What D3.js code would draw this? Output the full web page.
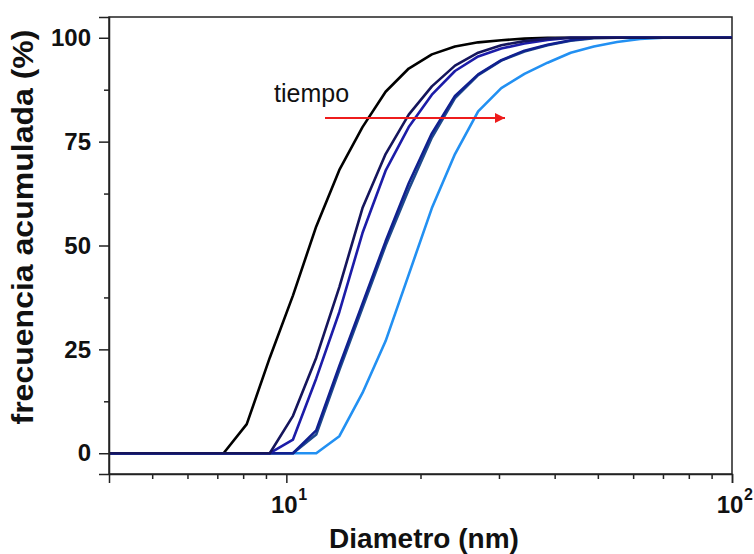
<!DOCTYPE html>
<html>
<head>
<meta charset="utf-8">
<script src="https://cdn.jsdelivr.net/npm/d3@7"></script>
<style>
  body { margin: 0; background: #fff; }
  text { font-family: "Liberation Sans", Arial, sans-serif; }
</style>
</head>
<body>
<script>
var width = 754;
var height = 554;

// diameters (nm) shared by all curves
var diameters = [4.0, 7.23, 8.15, 9.18, 10.35, 11.67, 13.15, 14.82, 16.70, 18.82, 21.21, 23.90,
                 26.94, 30.36, 34.22, 38.56, 43.46, 48.98, 55.20, 62.21, 70.11, 79.01, 89.05, 100];

// cumulative frequency (%) per curve, in time order
var black     = [0, 0, 7, 23, 38, 54.6, 68.2, 78.5, 87, 92.6, 96, 97.9, 98.9, 99.4, 99.8, 100, 100, 100, 100, 100, 100, 100, 100, 100];
var navy      = [0, 0, 0, 0, 9, 23, 40, 59, 72, 81.5, 88.3, 93.3, 96.4, 98.2, 99.2, 99.8, 100, 100, 100, 100, 100, 100, 100, 100];
var blue      = [0, 0, 0, 0, 3.3, 18, 34, 53, 68, 78.5, 86.3, 92, 95.5, 97.4, 98.6, 99.5, 100, 100, 100, 100, 100, 100, 100, 100];
var darkblue  = [0, 0, 0, 0, 0, 5.5, 21, 36, 51, 65, 77, 86, 91.2, 94.6, 96.9, 98.3, 99.4, 100, 100, 100, 100, 100, 100, 100];
var steel     = [0, 0, 0, 0, 0, 4.5, 20, 35, 50, 63.5, 76, 85.5, 91, 94.5, 96.7, 98.2, 99.3, 99.9, 100, 100, 100, 100, 100, 100];
var lightblue = [0, 0, 0, 0, 0, 0, 4.1, 14.5, 27, 43, 59, 72, 82.3, 87.9, 91.3, 94.0, 96.4, 97.9, 99, 99.7, 100, 100, 100, 100];

var seriesNames  = ["black", "lightblue", "steel", "darkblue", "blue", "navy"];
var seriesValues = [black, lightblue, steel, darkblue, blue, navy];
var seriesColors = ["#000000", "#2290f2", "#1e4a8c", "#10208f", "#1c1ca8", "#15155c"];

var yTicks = [0, 25, 50, 75, 100];
var yMinor = [12.5, 37.5, 62.5, 87.5];
var xTicks = [10, 100];
var xTickExp = ["1", "2"];
var xMinor = [5, 6, 7, 8, 9, 20, 30, 40, 50, 60, 70, 80, 90];

// plot box
var plotL = 109, plotR = 732, plotT = 17, plotB = 474;

var svg = d3.select("body").append("svg")
            .attr("width", width)
            .attr("height", height);

var x = d3.scaleLog().domain([4, 100]).range([plotL, plotR]);
var y = d3.scaleLinear().domain([-5, 105]).range([plotB, plotT]);

// frame
svg.append("rect")
   .attr("x", plotL).attr("y", plotT)
   .attr("width", plotR - plotL).attr("height", plotB - plotT)
   .attr("fill", "none")
   .attr("stroke", "#222")
   .attr("stroke-width", 1.5);

// curves
var line = d3.line()
             .x(function(d){ return x(d[0]); })
             .y(function(d){ return y(d[1]); });

svg.append("g")
   .selectAll("path")
   .data(seriesValues)
   .enter()
   .append("path")
   .attr("d", function(vals){ return line(diameters.map(function(dm, i){ return [dm, vals[i]]; })); })
   .attr("fill", "none")
   .attr("stroke", function(d, i){ return seriesColors[i]; })
   .attr("stroke-width", 2.6)
   .attr("stroke-linejoin", "round");

// y axis
var yAxis = d3.axisLeft(y).tickValues(yTicks).tickSize(10).tickPadding(8);
var gy = svg.append("g")
   .attr("transform", "translate(" + plotL + ",0)")
   .call(yAxis);
gy.select(".domain").attr("stroke", "#222").attr("stroke-width", 1.5);
gy.selectAll(".tick line").attr("stroke", "#222").attr("stroke-width", 1.5);
gy.selectAll(".tick text")
  .attr("font-family", "Liberation Sans, Arial, sans-serif")
  .attr("font-size", 24)
  .attr("font-weight", "bold")
  .attr("fill", "#111");

var gym = svg.append("g")
   .attr("transform", "translate(" + plotL + ",0)")
   .call(d3.axisLeft(y).tickValues(yMinor).tickSize(5).tickFormat(""));
gym.select(".domain").remove();
gym.selectAll(".tick line").attr("stroke", "#222").attr("stroke-width", 1.5);

// x axis
var gx = svg.append("g")
   .attr("transform", "translate(0," + plotB + ")")
   .call(d3.axisBottom(x).tickValues(xTicks).tickSize(9).tickFormat(""));
gx.select(".domain").attr("stroke", "#222").attr("stroke-width", 1.5);
gx.selectAll(".tick line").attr("stroke", "#222").attr("stroke-width", 1.5);

var gxm = svg.append("g")
   .attr("transform", "translate(0," + plotB + ")")
   .call(d3.axisBottom(x).tickValues(xMinor).tickSize(5).tickFormat(""));
gxm.select(".domain").remove();
gxm.selectAll(".tick line").attr("stroke", "#222").attr("stroke-width", 1.5);

// x tick labels 10^n
xTicks.forEach(function(v, i){
    svg.append("text")
       .attr("x", x(v) - 2)
       .attr("y", 513)
       .attr("text-anchor", "middle")
       .attr("font-size", 24)
       .attr("font-weight", "bold")
       .attr("fill", "#111")
       .text("10");
    svg.append("text")
       .attr("x", x(v) + 12)
       .attr("y", 500)
       .attr("font-size", 16)
       .attr("font-weight", "bold")
       .attr("fill", "#111")
       .text(xTickExp[i]);
});

// axis titles
svg.append("text")
   .attr("x", 424)
   .attr("y", 548)
   .attr("text-anchor", "middle")
   .attr("font-size", 28)
   .attr("font-weight", "bold")
   .attr("fill", "#111")
   .text("Diametro (nm)");

svg.append("text")
   .attr("transform", "translate(33,227) rotate(-90)")
   .attr("text-anchor", "middle")
   .attr("font-size", 29)
   .attr("font-weight", "bold")
   .attr("fill", "#111")
   .attr("textLength", 395)
   .attr("lengthAdjust", "spacingAndGlyphs")
   .text("frecuencia acumulada (%)");

// annotation
svg.append("text")
   .attr("x", 274)
   .attr("y", 102)
   .attr("font-size", 25)
   .attr("fill", "#111")
   .text("tiempo");

svg.append("defs").append("marker")
   .attr("id", "arrow")
   .attr("viewBox", "0 0 10 10")
   .attr("refX", 10).attr("refY", 5)
   .attr("markerWidth", 7).attr("markerHeight", 5)
   .attr("markerUnits", "strokeWidth")
   .attr("orient", "auto")
   .append("path")
   .attr("d", "M0,0L10,5L0,10Z")
   .attr("fill", "#ee1c1c");

svg.append("line")
   .attr("x1", 325).attr("y1", 118)
   .attr("x2", 505).attr("y2", 118)
   .attr("stroke", "#ee1c1c")
   .attr("stroke-width", 2)
   .attr("marker-end", "url(#arrow)");
</script>
</body>
</html>
